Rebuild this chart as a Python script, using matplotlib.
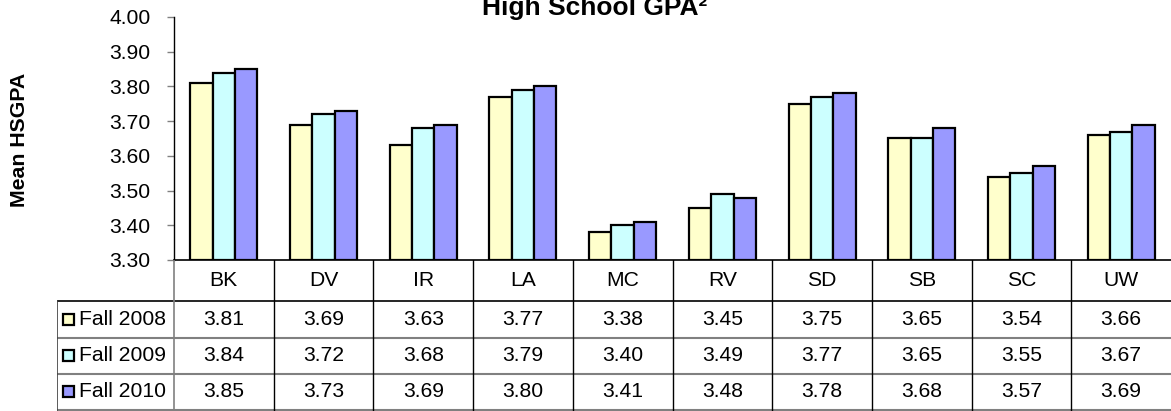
import numpy as np
import matplotlib
matplotlib.use("Agg")
import matplotlib.pyplot as plt
from matplotlib.patches import Rectangle

plt.rcParams['font.family'] = ['Liberation Sans', 'DejaVu Sans']

campuses = ['BK', 'DV', 'IR', 'LA', 'MC', 'RV', 'SD', 'SB', 'SC', 'UW']
series_names = ['Fall 2008', 'Fall 2009', 'Fall 2010']
fall_2008 = [3.81, 3.69, 3.63, 3.77, 3.38, 3.45, 3.75, 3.65, 3.54, 3.66]
fall_2009 = [3.84, 3.72, 3.68, 3.79, 3.40, 3.49, 3.77, 3.65, 3.55, 3.67]
fall_2010 = [3.85, 3.73, 3.69, 3.80, 3.41, 3.48, 3.78, 3.68, 3.57, 3.69]
colors = ['#FFFFCC', '#CCFFFF', '#9999FF']
yticks = [3.30, 3.40, 3.50, 3.60, 3.70, 3.80, 3.90, 4.00]

W, H = 1171, 411
fig = plt.figure(figsize=(W / 100, H / 100), dpi=100)

# pixel layout
ax_left, ax_right, ax_top, ax_bot = 174, 1171, 17, 260
tab_left = 57
colw = (ax_right - ax_left) / len(campuses)
fs = 15.2

ax = fig.add_axes([ax_left / W, 1 - ax_bot / H, (ax_right - ax_left) / W, (ax_bot - ax_top) / H])
x = np.arange(len(campuses))
bw = 0.224
for i, vals in enumerate([fall_2008, fall_2009, fall_2010]):
    ax.bar(x + (i - 1) * bw, np.array(vals) - 3.30, bottom=3.30, width=bw,
           color=colors[i], edgecolor='black', linewidth=1.6, label=series_names[i])
ax.set_xlim(-0.5, len(campuses) - 0.5)
ax.set_ylim(3.30, 4.00)
ax.set_yticks(yticks)
ax.set_yticklabels(['%.2f' % t for t in yticks], fontsize=fs)
ax.tick_params(axis='y', length=5, width=1, pad=12, color='#808080')
ax.set_xticks([])
for s in ['top', 'right', 'bottom']:
    ax.spines[s].set_visible(False)
ax.spines['left'].set_linewidth(1)

# data table under the chart
tx = fig.add_axes([tab_left / W, 0, (ax_right - tab_left) / W, (H - ax_bot) / H])
xl = -0.5 - (ax_left - tab_left) / colw
tx.set_xlim(xl, len(campuses) - 0.5)
tx.set_ylim(H, ax_bot)
tx.axis('off')

rows = [ax_bot, 301, 337.5, 373.5, 410]
tx.plot([-0.5, len(campuses) - 0.5], [rows[0], rows[0]], color='black', lw=1.2, clip_on=False)
tx.plot([xl, len(campuses) - 0.5], [rows[1], rows[1]], color='black', lw=1.2)
for yy in rows[2:]:
    tx.plot([xl, len(campuses) - 0.5], [yy, yy], color='#808080', lw=1.5)
tx.plot([xl, xl], [rows[1], rows[-1]], color='#404040', lw=1.2)
tx.plot([-0.5, -0.5], [rows[0], rows[-1]], color='#808080', lw=1.2)
for k in range(1, len(campuses)):
    tx.plot([k - 0.5, k - 0.5], [rows[0], rows[-1]], color='black', lw=1.0)

for k, c in enumerate(campuses):
    tx.text(k, (rows[0] + rows[1]) / 2, c, ha='center', va='center', fontsize=fs)

for r, vals in enumerate([fall_2008, fall_2009, fall_2010]):
    yc = (rows[r + 1] + rows[r + 2]) / 2
    tx.add_patch(Rectangle((xl + 6 / colw, yc - 5.5), 11 / colw, 11,
                           facecolor=colors[r], edgecolor='black', lw=1.6))
    tx.text(xl + 22 / colw, yc, series_names[r], ha='left', va='center', fontsize=fs)
    for k, v in enumerate(vals):
        tx.text(k, yc, '%.2f' % v, ha='center', va='center', fontsize=fs)

fig.text(594.5 / W, 1 - 15 / H, 'High School GPA²', ha='center', va='baseline',
         fontsize=19, fontweight='bold')
fig.text(19.5 / W, 1 - 140 / H, 'Mean HSGPA', rotation=90, ha='center', va='center',
         fontsize=15.3, fontweight='bold')

fig.savefig('out.png', dpi=100)
